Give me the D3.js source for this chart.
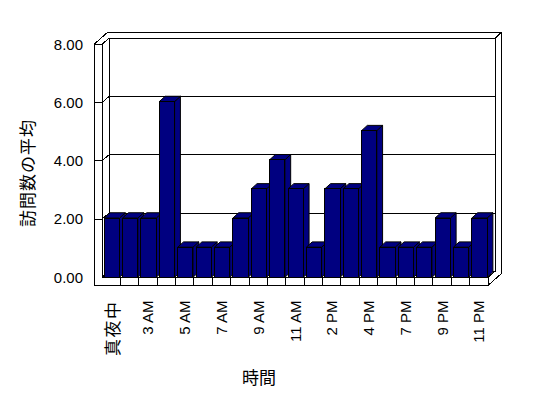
<!DOCTYPE html>
<html>
<head>
<meta charset="utf-8">
<script src="https://cdn.jsdelivr.net/npm/d3@7"></script>
<style>
    body { margin: 0; background: #fff; }
    svg { display: block; }
</style>
</head>
<body>
<div id="chart"></div>
<script>
"use strict";
// data
const hours = ["真夜中", "2 AM", "3 AM", "4 AM", "5 AM", "6 AM", "7 AM", "8 AM", "9 AM", "10 AM",
               "11 AM", "1 PM", "2 PM", "3 PM", "4 PM", "6 PM", "7 PM", "8 PM", "9 PM", "10 PM", "11 PM"];
const visits = [2, 2, 2, 6, 1, 1, 1, 2, 3, 4, 3, 1, 3, 3, 5, 1, 1, 1, 2, 1, 2];
const yTicks = [0, 2, 4, 6, 8];
const shownHours = hours.filter((d, i) => i % 2 === 0);
const yTitle = "訪問数の平均";
const xTitle = "時間";

(function() {
    const width = 548, height = 398;
    const plot = {left: 102, right: 488, top: 44.3, bottom: 277.3};
    const outerLeft = 94, floorBottom = 285.5;
    const dep = {x: 7, y: -6};       // floor depth to back wall
    const wall = {x: 6.5, y: -6};    // back wall thickness
    const navy = "#000080";
    const latin = "'Liberation Sans', Arial, sans-serif";
    const cjk = "'Noto Sans CJK JP', sans-serif";

    const svg = d3.select("#chart").append("svg")
        .attr("width", width)
        .attr("height", height);

    const x = d3.scaleBand().domain(hours).range([plot.left, plot.right]);
    const y = d3.scaleLinear().domain([0, 8]).range([plot.bottom, plot.top]);

    const frame = svg.append("g")
        .attr("fill", "none")
        .attr("stroke", "#000")
        .attr("stroke-width", 1)
        .attr("shape-rendering", "crispEdges");

    function line(x1, y1, x2, y2) {
        frame.append("line")
            .attr("x1", x1).attr("y1", y1)
            .attr("x2", x2).attr("y2", y2);
    }

    // outline of walls + floor
    const tx = dep.x + wall.x, ty = dep.y + wall.y;
    frame.append("polygon")
        .attr("fill", "#fff")
        .attr("points", [
            [outerLeft, y(8)], [outerLeft + tx, y(8) + ty],
            [plot.right + tx, y(8) + ty], [plot.right + tx, floorBottom + ty],
            [plot.right, floorBottom], [outerLeft, floorBottom]
        ].join(" "));

    // back wall face
    frame.append("rect")
        .attr("x", plot.left + dep.x)
        .attr("y", y(8) + dep.y)
        .attr("width", plot.right - plot.left)
        .attr("height", y(0) - y(8));
    line(plot.right + dep.x, y(8) + dep.y, plot.right + tx, y(8) + ty);

    // left wall front face and floor front face
    line(outerLeft, y(8), plot.left, y(8));
    line(plot.left, y(8), plot.left, plot.bottom);
    line(plot.left, plot.bottom, plot.right, plot.bottom);
    line(plot.right, plot.bottom, plot.right, floorBottom);
    line(plot.left, y(8), plot.left + dep.x, y(8) + dep.y);
    line(plot.left, plot.bottom, plot.left + dep.x, plot.bottom + dep.y);
    line(plot.right, plot.bottom, plot.right + dep.x, plot.bottom + dep.y);

    // gridlines
    yTicks.filter((d) => d > 0 && d < 8).forEach((v) => {
        line(outerLeft, y(v), plot.left, y(v));
        line(plot.left, y(v), plot.left + dep.x, y(v) + dep.y);
        line(plot.left + dep.x, y(v) + dep.y, plot.right + dep.x, y(v) + dep.y);
    });

    // floor category dividers
    hours.slice(1).forEach((h) => {
        line(x(h), plot.bottom, x(h), floorBottom);
    });

    // bars
    const bw = x.bandwidth() * 0.83;
    const bdx = 5.8, bdy = -5.3;
    const bars = svg.append("g")
        .attr("fill", navy)
        .attr("stroke", "#000")
        .attr("stroke-width", 1)
        .attr("stroke-linejoin", "miter");

    hours.forEach((h, i) => {
        const bx = x(h) + 2.2;
        const yt = y(visits[i]) - 1;
        const yb = plot.bottom;
        const g = bars.append("g");
        g.append("polygon")
            .attr("points", [[bx + bw, yt], [bx + bw + bdx, yt + bdy],
                             [bx + bw + bdx, yb + bdy], [bx + bw, yb]].join(" "));
        g.append("polygon")
            .attr("points", [[bx, yt], [bx + bdx, yt + bdy],
                             [bx + bw + bdx, yt + bdy], [bx + bw, yt]].join(" "));
        g.append("rect")
            .attr("x", bx).attr("y", yt)
            .attr("width", bw).attr("height", yb - yt)
            .attr("shape-rendering", "crispEdges");
    });

    // y axis labels
    const yAxis = svg.append("g")
        .attr("transform", "translate(" + outerLeft + ",0)")
        .call(d3.axisLeft(y).tickValues(yTicks).tickFormat(d3.format(".2f")).tickSize(0).tickPadding(11));
    yAxis.select(".domain").remove();
    yAxis.selectAll("text")
        .attr("font-family", latin)
        .attr("font-size", 15)
        .attr("fill", "#000");

    // x axis labels
    const xAxis = svg.append("g")
        .attr("transform", "translate(0," + floorBottom + ")")
        .call(d3.axisBottom(x).tickValues(shownHours).tickSize(0));
    xAxis.select(".domain").remove();
    xAxis.selectAll("text")
        .attr("x", 0)
        .attr("y", 0)
        .attr("dy", null)
        .attr("text-anchor", "end")
        .attr("dominant-baseline", "central")
        .attr("transform", "translate(0,15) rotate(-90)")
        .attr("fill", "#000")
        .each(function(d) {
            const isCjk = /[^\x00-\x7F]/.test(d);
            d3.select(this)
                .attr("font-family", isCjk ? cjk : latin)
                .attr("font-size", isCjk ? 17 : 15)
                .attr("letter-spacing", isCjk ? 1.5 : null);
        });

    // titles
    svg.append("text")
        .attr("transform", "translate(26,173) rotate(-90)")
        .attr("text-anchor", "middle")
        .attr("dominant-baseline", "central")
        .attr("font-family", cjk)
        .attr("font-size", 17)
        .attr("letter-spacing", 1)
        .text(yTitle);

    svg.append("text")
        .attr("x", 259)
        .attr("y", 376)
        .attr("text-anchor", "middle")
        .attr("dominant-baseline", "central")
        .attr("font-family", cjk)
        .attr("font-size", 17)
        .text(xTitle);
})();
</script>
</body>
</html>
